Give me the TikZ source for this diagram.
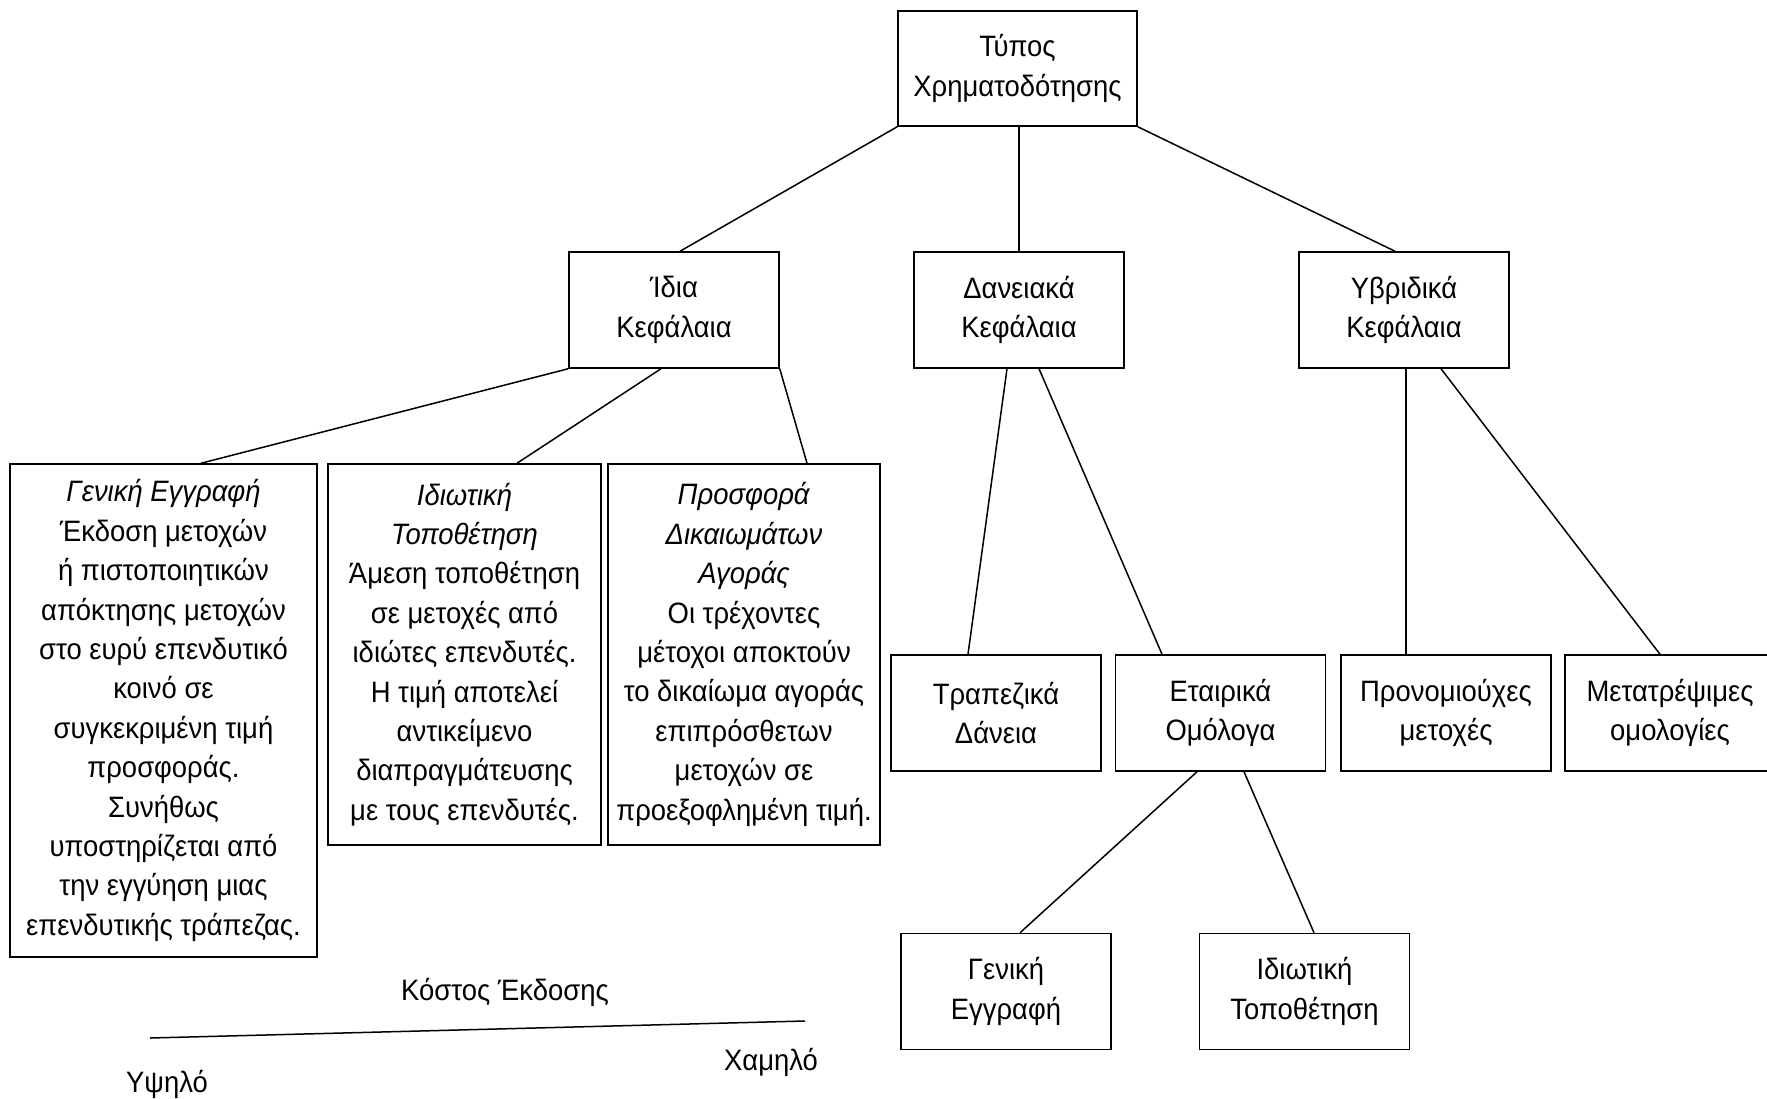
\documentclass[tikz,border=0pt]{standalone}
\usepackage{fontspec}
\setmainfont{Liberation Sans}[FakeStretch=0.93]
\begin{document}
\begin{tikzpicture}[x=1pt,y=-1pt,line width=1.5pt,
  box/.style={draw,rectangle,inner sep=0pt,align=center,minimum width=210pt,minimum height=116pt,
    font=\fontsize{29.5}{39.4}\selectfont},
  lbl/.style={inner sep=0pt,font=\fontsize{29.5}{39.4}\selectfont}]
\useasboundingbox (0,0) rectangle (1767,1099);
\node[box,minimum width=239pt,minimum height=115pt] (top) at (1017.5,68.5) {Τύπος\\Χρηματοδότησης};
\node[box] (ida) at (674,310) {Ίδια\\Κεφάλαια};
\node[box] (dan) at (1019,310) {Δανειακά\\Κεφάλαια};
\node[box] (yvr) at (1404,310) {Υβριδικά\\Κεφάλαια};
\node[box,minimum width=307pt,minimum height=493pt] (gen) at (163.5,710.5) {\textit{Γενική Εγγραφή}\\Έκδοση μετοχών\\ή πιστοποιητικών\\απόκτησης μετοχών\\στο ευρύ επενδυτικό\\κοινό σε\\συγκεκριμένη τιμή\\προσφοράς.\\Συνήθως\\υποστηρίζεται από\\την εγγύηση μιας\\επενδυτικής τράπεζας.};
\node[box,minimum width=273pt,minimum height=381pt] (idi) at (464.5,654.5) {\textit{Ιδιωτική}\\\textit{Τοποθέτηση}\\Άμεση τοποθέτηση\\σε μετοχές από\\ιδιώτες επενδυτές.\\Η τιμή αποτελεί\\αντικείμενο\\διαπραγμάτευσης\\με τους επενδυτές.};
\node[box,minimum width=272pt,minimum height=381pt] (pro) at (744,654.5) {\textit{Προσφορά}\\\textit{Δικαιωμάτων}\\\textit{Αγοράς}\\Οι τρέχοντες\\μέτοχοι αποκτούν\\το δικαίωμα αγοράς\\επιπρόσθετων\\μετοχών σε\\προεξοφλημένη τιμή.};
\node[box] (tra) at (996,713) {Τραπεζικά\\Δάνεια};
\node[box] (eta) at (1220.5,713) {Εταιρικά\\Ομόλογα};
\node[box] (prn) at (1446,713) {Προνομιούχες\\μετοχές};
\node[box] (met) at (1670,713) {Μετατρέψιμες\\ομολογίες};
\node[box] (gen2) at (1006,991.5) {Γενική\\Εγγραφή};
\node[box] (idi2) at (1304.5,991.5) {Ιδιωτική\\Τοποθέτηση};
\draw (top.south west) -- ([xshift=6pt]ida.north);
\draw (dan.north |- top.south) -- (dan.north);
\draw (top.south east) -- ([xshift=-9pt]yvr.north);
\draw (ida.south west) -- ([xshift=37.5pt]gen.north);
\draw ([xshift=-13pt]ida.south) -- ([xshift=52.5pt]idi.north);
\draw (ida.south east) -- ([xshift=63pt]pro.north);
\draw ([xshift=-12pt]dan.south) -- ([xshift=-28pt]tra.north);
\draw ([xshift=20pt]dan.south) -- ([xshift=-58.5pt]eta.north);
\draw ([xshift=2pt]yvr.south) -- ([xshift=-40pt]prn.north);
\draw ([xshift=37pt]yvr.south) -- ([xshift=-10pt]met.north);
\draw ([xshift=-23.5pt]eta.south) -- ([xshift=14pt]gen2.north);
\draw ([xshift=23.5pt]eta.south) -- ([xshift=9.5pt]idi2.north);
\coordinate (c1) at (150,1038);
\coordinate (c2) at (805,1021);
\draw (c1) -- (c2);
\node[lbl] (cost) at (505,992) {Κόστος Έκδοσης};
\node[lbl] (high) at (167,1084) {Υψηλό};
\node[lbl] (low) at (771,1062) {Χαμηλό};
\end{tikzpicture}
\end{document}
